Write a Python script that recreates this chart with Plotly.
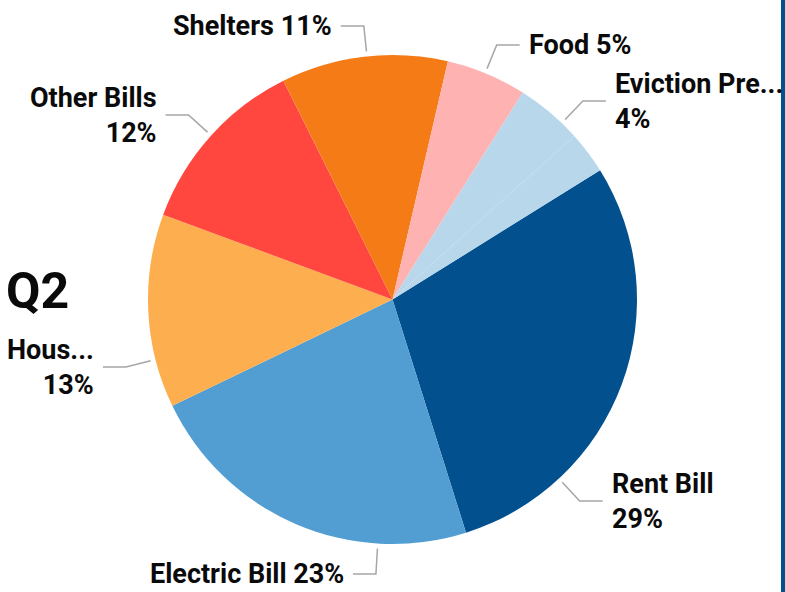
import math
import plotly.graph_objects as go

# ---------------- data ----------------
title_text = "Q2"
names = ["Rent Bill", "Electric Bill", "Housing Assistance", "Other Bills",
         "Shelters", "Food", "Eviction Prevention", "Utility Deposits"]
label_names = ["Rent Bill", "Electric Bill", "Hous...", "Other Bills",
               "Shelters", "Food", "Eviction Pre...", ""]
values = [29.0, 22.7, 12.8, 12.0, 11.0, 5.3, 4.4, 2.8]
colors = ["#03508f", "#529ed2", "#fdae4f", "#ff4740",
          "#f57b17", "#feb3b2", "#b8d7eb", "#b8d7eb"]

# ---------------- label layout (styling) ----------------
label_center_y = [501, 574, 367, 115, 26, 45, 101, None]   # px from top
label_two_lines = [True, False, True, True, False, False, True, False]

W, H = 785, 592
CX, CY, R = 392.5, 299.5, 244.5
START_DEG = 58.1          # clockwise from 12 o'clock
R_ANCHOR = R + 5
R_ELBOW = 275
SEG2 = 23
GAP = 7
FONT = "Roboto"
FS = 27


def px(x):
    return x / W


def py(y):
    return 1 - y / H


fig = go.Figure()
fig.add_trace(go.Pie(
    labels=names, values=values, sort=False, direction="clockwise",
    rotation=START_DEG, textinfo="none", hoverinfo="label+percent",
    marker=dict(colors=colors, line=dict(width=0)),
    domain=dict(x=[px(CX - R), px(CX + R)], y=[py(CY + R), py(CY - R)]),
    showlegend=False,
))

total = sum(values)
shapes = []
annotations = []
cum = 0.0
for i, v in enumerate(values):
    start = START_DEG + 360 * cum / total
    cum += v
    end = START_DEG + 360 * cum / total
    mid = math.radians((start + end) / 2)  # clockwise from top
    ly = label_center_y[i]
    if ly is None:
        continue
    side = 1 if math.sin(mid) >= 0 else -1
    dy = ly - CY
    ex = CX + side * math.sqrt(max(R_ELBOW ** 2 - dy ** 2, 0))
    ax = CX + (ex - CX) * R_ANCHOR / R_ELBOW
    ay = CY + dy * R_ANCHOR / R_ELBOW
    lx = ex + side * SEG2
    shapes.append(dict(
        type="path", xref="paper", yref="paper",
        path=f"M {px(ax)},{py(ay)} L {px(ex)},{py(ly)} L {px(lx)},{py(ly)}",
        line=dict(color="#a6a6a6", width=1.5), layer="above"))
    pct = round(100 * v / total)
    if label_two_lines[i]:
        txt = f"<b>{label_names[i]}</b><br><b>{pct}%</b>"
    else:
        txt = f"<b>{label_names[i]} {pct}%</b>"
    annotations.append(dict(
        x=px(lx + side * GAP), y=py(ly), xref="paper", yref="paper",
        xanchor="left" if side > 0 else "right", yanchor="middle",
        align="left" if side > 0 else "right",
        text=txt, showarrow=False,
        font=dict(family=FONT, size=FS, color="#0a0a0a")))

annotations.append(dict(
    x=px(4), y=py(291), xref="paper", yref="paper",
    xanchor="left", yanchor="middle", text=f"<b>{title_text}</b>",
    showarrow=False, font=dict(family=FONT, size=50, color="#0a0a0a")))

shapes.append(dict(type="rect", xref="paper", yref="paper",
                   x0=px(781), x1=1, y0=0, y1=1,
                   fillcolor="#03508f", line=dict(width=0), layer="above"))

fig.update_layout(
    width=W, height=H, autosize=False,
    margin=dict(l=0, r=0, t=0, b=0),
    paper_bgcolor="white", plot_bgcolor="white",
    shapes=shapes, annotations=annotations,
)

fig.write_html("out.html",
               config={"displayModeBar": False},
               post_script="document.body.style.margin='0';"
                           "document.body.style.overflow='hidden';")
